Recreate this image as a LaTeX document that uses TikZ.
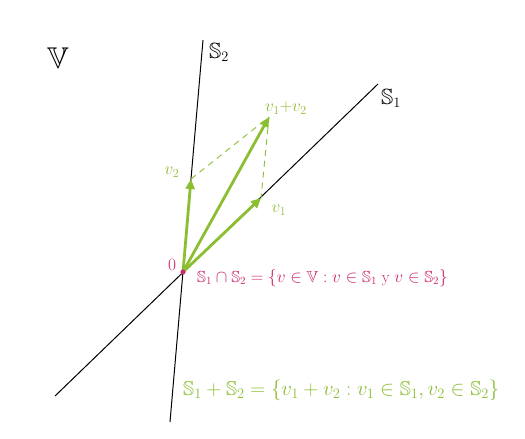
\documentclass[tikz,border=0pt]{standalone}
\usepackage{amsmath,amssymb}
\usetikzlibrary{arrows.meta}
\definecolor{hgreen}{RGB}{140,190,50}
\definecolor{hmag}{RGB}{205,40,110}
\tikzset{
  subspace/.style={black, line width=1pt},
  vec/.style={hgreen, line width=2.8pt, -{Triangle[length=10pt,width=9pt]}},
  aux/.style={hgreen, line width=0.9pt, dash pattern=on 6pt off 5pt},
  lab/.style={inner sep=1pt},
}
\begin{document}
\begin{tikzpicture}[x=1pt,y=-1pt]
\useasboundingbox[fill=white] (0,0) rectangle (525,439);
% subspaces
\coordinate (s2top) at (203,40);
\coordinate (s2bot) at (170,422);
\coordinate (s1top) at (378,84);
\coordinate (s1bot) at (55,396);
\draw[subspace] (s2bot) -- (s2top);
\draw[subspace] (s1bot) -- (s1top);
\node[lab, font=\fontsize{30}{34}\selectfont] (V) at (58,58) {$\mathbb{V}$};
\node[lab, font=\fontsize{22}{26}\selectfont, anchor=west] (S2) at (208,52) {$\mathbb{S}_2$};
\node[lab, font=\fontsize{22}{26}\selectfont, anchor=west] (S1) at (380,98) {$\mathbb{S}_1$};
% origin
\coordinate (o) at (183,272);
\node[lab, hmag, font=\fontsize{16}{18}\selectfont] (olab) at (172,265) {$0$};
% vectors
\coordinate (v1) at (261,198);
\coordinate (v2) at (191,179);
\coordinate (v12) at (269,117);
\draw[aux] (v2) -- (v12);
\draw[aux] (v12) -- (v1);
\draw[vec] (o) -- (v1);
\draw[vec] (o) -- (v2);
\draw[vec] (o) -- (v12);
\fill[hmag] (o) circle (2.6pt);
\node[lab, hgreen, font=\fontsize{18}{20}\selectfont] (v1lab) at (279,210) {$v_1$};
\node[lab, hgreen, font=\fontsize{18}{20}\selectfont] (v2lab) at (172,172) {$v_2$};
\node[lab, hgreen, font=\fontsize{18}{20}\selectfont, anchor=west] (v12lab) at (264,108) {$v_1{+}v_2$};
% formulas
\node[lab, hmag, font=\fontsize{16}{19}\selectfont, anchor=west] (inter) at (196,278)
  {$\mathbb{S}_1\cap\mathbb{S}_2=\{v\in\mathbb{V}: v\in\mathbb{S}_1 \text{ y } v\in\mathbb{S}_2\}$};
\node[lab, hgreen, font=\fontsize{20}{24}\selectfont, anchor=west] (sum) at (182,390)
  {$\mathbb{S}_1+\mathbb{S}_2=\{v_1+v_2 : v_1\in\mathbb{S}_1, v_2\in\mathbb{S}_2\}$};
\end{tikzpicture}
\end{document}
